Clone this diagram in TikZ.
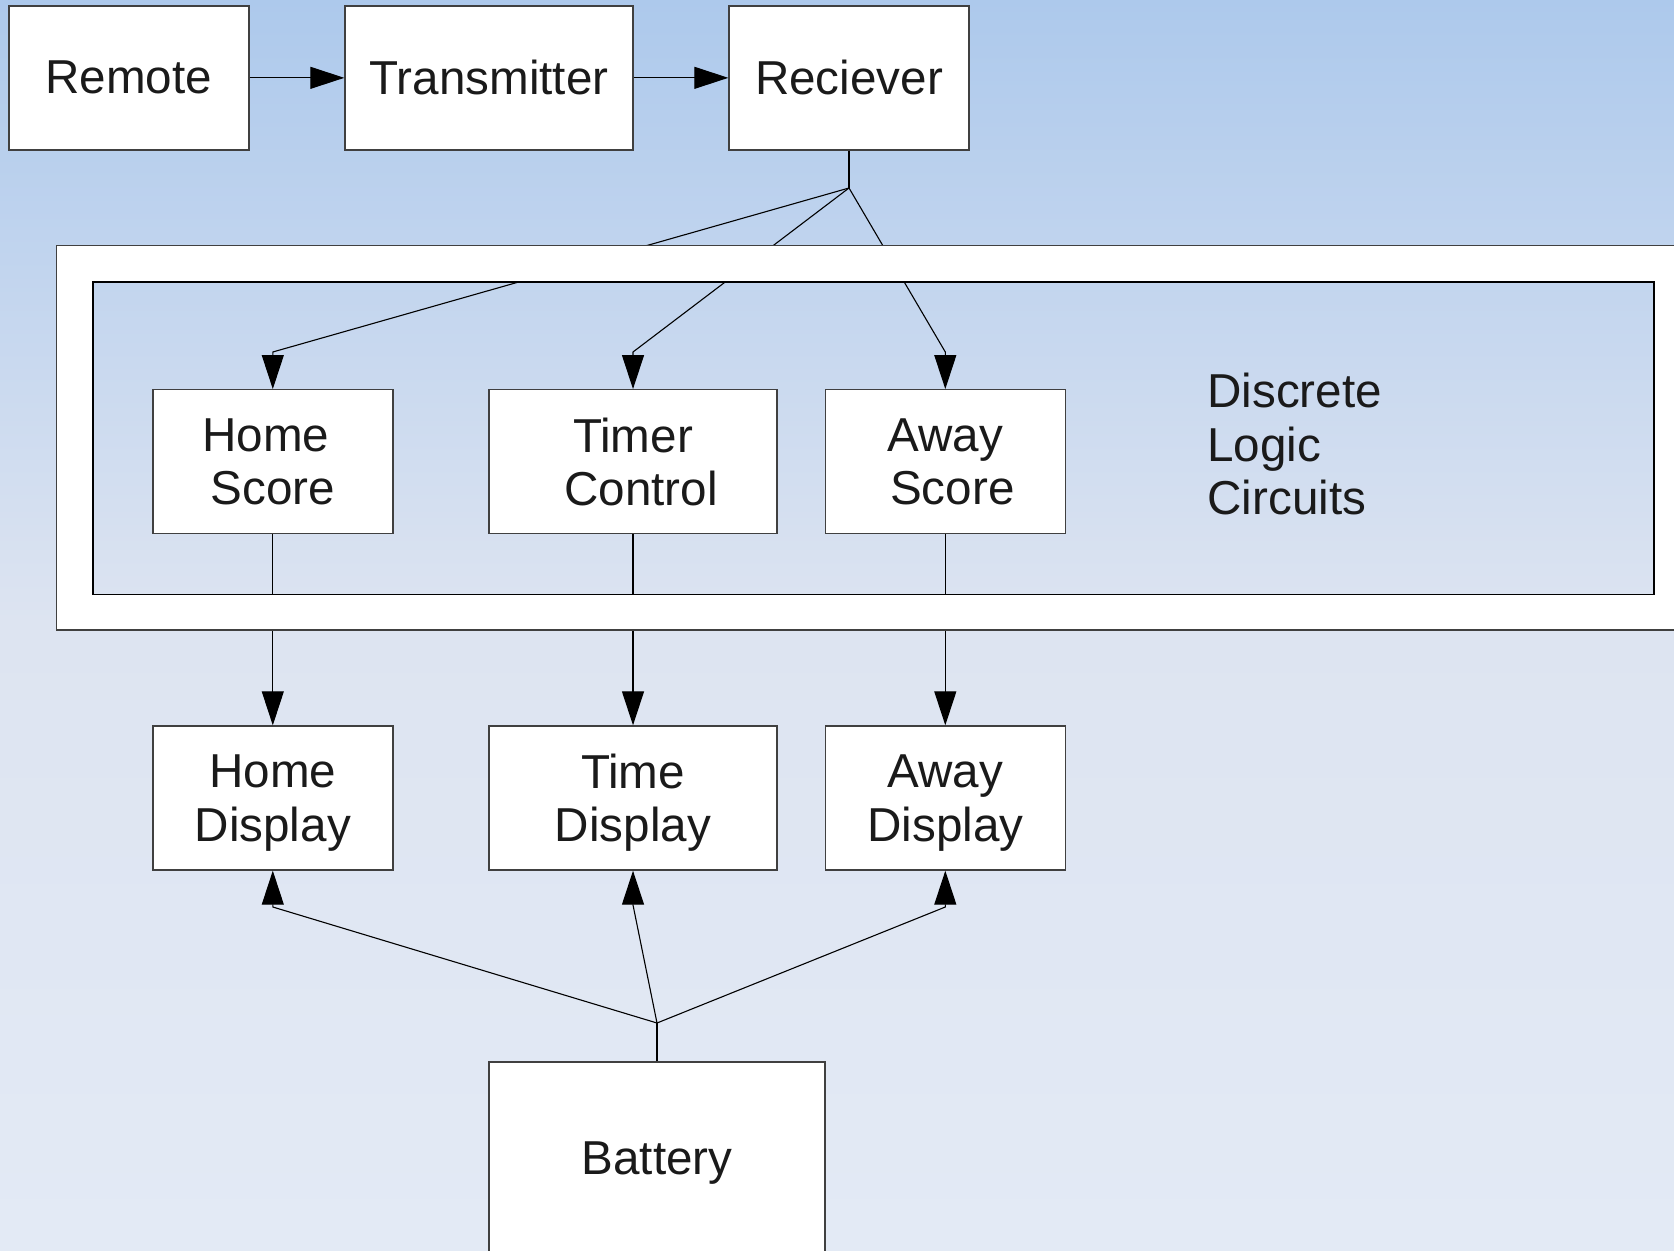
\documentclass[tikz,border=0pt]{standalone}
\usepackage{fontspec}
\setmainfont{Liberation Sans}
\usetikzlibrary{arrows.meta}
\definecolor{bgtop}{RGB}{173,201,236}
\definecolor{bgmid}{RGB}{221,228,241}
\definecolor{bgbot}{RGB}{227,234,245}
\definecolor{boxline}{RGB}{64,64,64}
\definecolor{txt}{RGB}{26,26,26}
\tikzset{
  blk/.style={draw=boxline, line width=0.7pt, fill=white, rectangle, inner sep=0pt,
    minimum height=72pt, align=center, text=txt,
    font=\fontsize{23.8}{26.7}\selectfont},
  narrow/.style={blk, minimum width=120pt},
  wide/.style={blk, minimum width=144pt},
  nodepth/.style={text depth=0pt},
  conn/.style={draw=black, line width=0.55pt},
  arr/.style={conn, -{Triangle[length=17pt,width=11pt]}},
}
\begin{document}
\begin{tikzpicture}[x=0.5pt,y=-0.5pt]
\useasboundingbox (0,0) rectangle (1674,1251);
\clip (0,0) rectangle (1674,1251);
% background
\fill[top color=bgtop, bottom color=bgmid] (0,0) rectangle (1674,621);
\fill[top color=bgmid, bottom color=bgbot] (0,620) rectangle (1674,1251);

% coordinates
\coordinate (fork) at (849,188);
\coordinate (hsbend) at (272.8,352);
\coordinate (tcbend) at (633,352);
\coordinate (asbend) at (945.3,352);
\coordinate (bfork) at (657,1023);
\coordinate (hdbend) at (272.8,907);
\coordinate (tdbend) at (633,905);
\coordinate (adbend) at (945.3,907);

% nodes
\node[narrow] (remote) at (128.8,77.85) {Remote};
\node[wide]   (trans)  at (489,77.85) {Transmitter};
\node[narrow] (rec)    at (849,77.85) {Reciever};
\node[narrow] (hs) at (272.8,461.75) {Home\hspace*{7pt}\\Score};
\node[wide]   (tc) at (633,461.75) {Timer\\\hspace*{8pt}Control};
\node[narrow] (as) at (945.3,461.75) {Away\\\hspace*{7pt}Score};
\node[narrow, nodepth] (hd) at (272.8,798) {Home\\Display};
\node[wide, nodepth]   (td) at (633,798) {Time\\Display};
\node[narrow, nodepth] (ad) at (945.3,798) {Away\\Display};
\node[blk, nodepth, minimum width=168pt, minimum height=96pt] (bat) at (657,1158) {Battery};

% connectors
\draw[arr] (remote.east) -- (trans.west);
\draw[arr] (trans.east) -- (rec.west);
\draw[conn] (rec.south) -- (fork);
\draw[arr] (fork) -- (hsbend) -- (hs.north);
\draw[arr] (fork) -- (tcbend) -- (tc.north);
\draw[arr] (fork) -- (asbend) -- (as.north);
\draw[arr] (hs.south) -- (hd.north);
\draw[arr] (tc.south) -- (td.north);
\draw[arr] (as.south) -- (ad.north);
\draw[conn] (bat.north) -- (bfork);
\draw[arr] (bfork) -- (hdbend) -- (hd.south);
\draw[arr] (bfork) -- (tdbend) -- (td.south);
\draw[arr] (bfork) -- (adbend) -- (ad.south);

% white frame of the Discrete Logic Circuits block (covers connectors)
\fill[white, even odd rule] (56.6,245.5) rectangle (1700,630) (93,282) rectangle (1654,594.7);
\draw[draw=boxline, line width=0.7pt] (56.6,245.5) rectangle (1700,630);
\draw[draw=black, line width=0.7pt] (93,282) rectangle (1654,594.7);

\node[anchor=west, align=left, inner sep=0pt, text=txt,
  font=\fontsize{23.8}{26.7}\selectfont] (dlc) at (1207,444) {Discrete\\Logic\\Circuits};
\end{tikzpicture}
\end{document}
